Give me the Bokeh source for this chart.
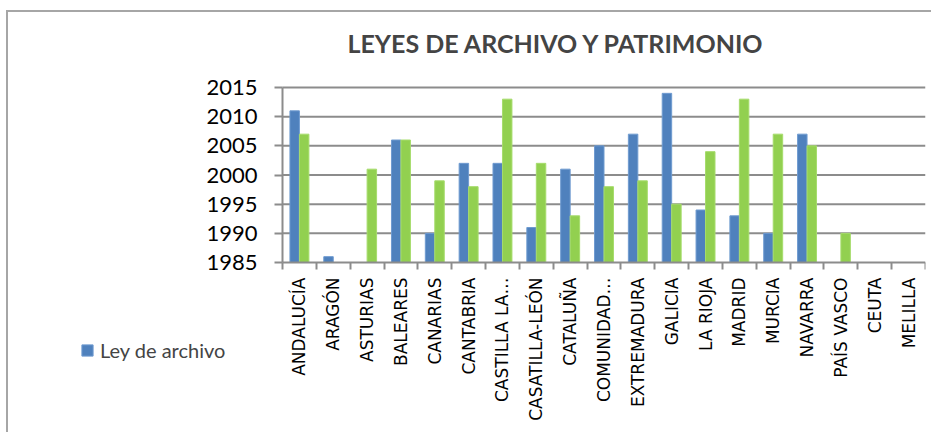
from bokeh.plotting import figure
from bokeh.models import (Range1d, LinearAxis, FixedTicker,
                          ColumnDataSource, Legend, LegendItem)
from bokeh.transform import dodge
from bokeh.core.properties import value
from bokeh.embed import file_html
from bokeh.resources import INLINE
import math

categories = ["ANDALUCÍA", "ARAGÓN", "ASTURIAS", "BALEARES", "CANARIAS", "CANTABRIA",
              "CASTILLA LA…", "CASATILLA-LEÓN", "CATALUÑA", "COMUNIDAD…", "EXTREMADURA",
              "GALICIA", "LA RIOJA", "MADRID", "MURCIA", "NAVARRA", "PAÍS VASCO", "CEUTA", "MELILLA"]
ley_archivo = [2011, 1986, None, 2006, 1990, 2002, 2002, 1991, 2001, 2005, 2007,
               2014, 1994, 1993, 1990, 2007, None, None, None]
ley_patrimonio = [2007, None, 2001, 2006, 1999, 1998, 2013, 2002, 1993, 1998, 1999,
                  1995, 2004, 2013, 2007, 2005, 1990, None, None]
y_ticks = [1985, 1990, 1995, 2000, 2005, 2010, 2015]

n = len(categories)
centers = [i + 0.5 for i in range(n)]
bounds = list(range(n + 1))
nan = float("nan")
src = ColumnDataSource(dict(
    x=centers,
    a=[nan if v is None else v for v in ley_archivo],
    p=[nan if v is None else v for v in ley_patrimonio],
    lab=categories,
    base=[y_ticks[0]] * n,
))
grid_src = ColumnDataSource(dict(y=y_ticks[1:], x0=[0] * (len(y_ticks) - 1), x1=[n] * (len(y_ticks) - 1)))

GRID = "#8c8c8c"
BORDER = "#a6a6a6"

# layout (pixels inside the figure)
W, H = 931, 432
FRAME_L, FRAME_R, FRAME_T, FRAME_B = 80, 925, 70, 424
AXIS_X, AXIS_Y, AXIS_TOP = 282, 262, 87   # plot area's left edge, baseline, top line
px_x = (FRAME_R - AXIS_X) / n
px_y = (AXIS_Y - AXIS_TOP) / (y_ticks[-1] - y_ticks[0])

x_range = Range1d(-(AXIS_X - FRAME_L) / px_x, n)
y_range = Range1d(y_ticks[0] - (FRAME_B - AXIS_Y) / px_y, y_ticks[-1] + (AXIS_TOP - FRAME_T) / px_y)

p = figure(width=W, height=H, output_backend="svg", toolbar_location=None,
           x_range=x_range, y_range=y_range,
           x_axis_location=None, y_axis_location=None,
           min_border_left=FRAME_L, min_border_right=W - FRAME_R,
           min_border_top=FRAME_T, min_border_bottom=H - FRAME_B)
p.outline_line_color = None
p.border_fill_alpha = 0
p.background_fill_color = "white"
p.xgrid.visible = False
p.ygrid.visible = False
p.styles = {
    "background-color": "white",
    "background-image": f"linear-gradient({BORDER}, {BORDER}), linear-gradient({BORDER}, {BORDER})",
    "background-size": "100% 2px, 2px 100%",
    "background-position": "6px 10px, 6px 10px",
    "background-repeat": "no-repeat",
}

# horizontal gridlines over the plot area
p.segment(x0="x0", x1="x1", y0="y", y1="y", source=grid_src, line_color=GRID, line_width=2)

# x axis: baseline with category boundary ticks
x_axis = LinearAxis(ticker=FixedTicker(ticks=[], minor_ticks=bounds), fixed_location=y_ticks[0],
                    bounds=(0, n), axis_line_color=GRID, axis_line_width=2,
                    major_tick_line_color=None, major_tick_in=0, major_tick_out=0,
                    major_label_standoff=0,
                    minor_tick_line_color=GRID, minor_tick_line_width=2,
                    minor_tick_in=0, minor_tick_out=7)
p.add_layout(x_axis, "below")

# y axis
y_axis = LinearAxis(ticker=FixedTicker(ticks=y_ticks), fixed_location=0,
                    bounds=(y_ticks[0], y_ticks[-1]),
                    axis_line_color=GRID, axis_line_width=2,
                    major_tick_line_color=GRID, major_tick_line_width=2,
                    major_tick_in=0, major_tick_out=8, minor_tick_line_color=None,
                    major_label_text_font="Lato", major_label_text_font_size="22px",
                    major_label_text_color="#000000", major_label_standoff=17)
p.add_layout(y_axis, "left")

r_a = p.vbar(x=dodge("x", -0.14), top="a", bottom=y_ticks[0], width=0.28,
             source=src, fill_color="#4F81BD", line_color="#6f9bd0", line_width=1)
r_p = p.vbar(x=dodge("x", 0.14), top="p", bottom=y_ticks[0], width=0.28,
             source=src, fill_color="#92D050", line_color="#a6dc6c", line_width=1)

# category labels, rotated, hanging below the baseline
p.text(x="x", y="base", text="lab", source=src, angle=math.pi / 2,
       text_align="right", text_baseline="middle", y_offset=15,
       text_font=value("DejaVu Sans"), text_font_size="17px", text_color="#000000")

legend = Legend(items=[LegendItem(label="Ley de archivo", renderers=[r_a])],
                location=(0, 62), margin=0, padding=0,
                border_line_color=None, background_fill_alpha=0,
                glyph_width=14, glyph_height=14, label_standoff=6,
                label_text_font="Lato", label_text_font_size="20px")
p.add_layout(legend, "center")

p.title.text = "LEYES DE ARCHIVO Y PATRIMONIO"
p.title.text_font = "Lato"
p.title.text_font_style = "bold"
p.title.text_font_size = "25px"
p.title.align = "left"
p.title.offset = 347 - FRAME_L
p.title.standoff = 25

open("out.html", "w").write(file_html(p, INLINE))
